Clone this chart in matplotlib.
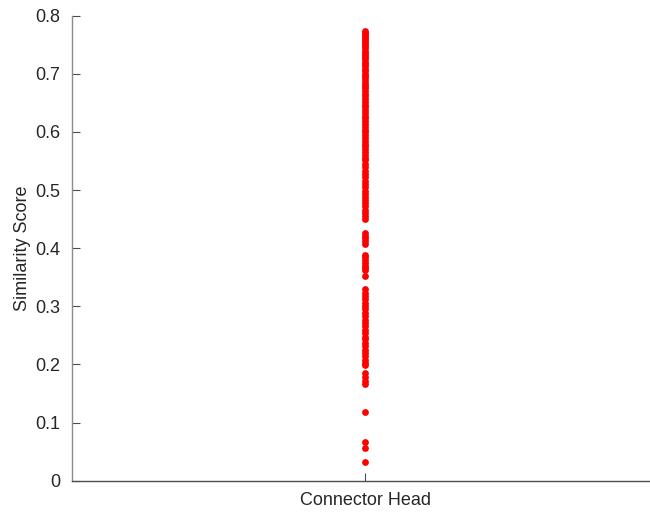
import matplotlib
matplotlib.use("Agg")
import matplotlib.pyplot as plt

plt.rcParams['font.family'] = ['Liberation Sans', 'DejaVu Sans']

category = "Connector Head"

# Similarity scores for every sample of the part
scores_high = [0.774, 0.771, 0.768, 0.765, 0.762, 0.758, 0.755, 0.751, 0.747, 0.744,
               0.740, 0.736, 0.733, 0.729, 0.725, 0.721, 0.717, 0.713, 0.709, 0.705,
               0.700, 0.696, 0.692, 0.688, 0.683, 0.679, 0.675, 0.670, 0.666, 0.661,
               0.657, 0.652, 0.647, 0.643, 0.638, 0.633, 0.628, 0.624, 0.619, 0.614,
               0.609, 0.604, 0.600, 0.595, 0.590, 0.585, 0.580, 0.575, 0.570, 0.566,
               0.561, 0.556, 0.551, 0.544, 0.539, 0.533, 0.527, 0.522, 0.516, 0.511,
               0.505, 0.499, 0.494, 0.488, 0.483, 0.477, 0.472, 0.466, 0.461, 0.456,
               0.450]
scores_mid = [0.426, 0.421, 0.417, 0.413, 0.408,
              0.389, 0.384, 0.379, 0.374, 0.370, 0.366, 0.362,
              0.353,
              0.329, 0.323, 0.318, 0.312, 0.306, 0.300, 0.295, 0.289, 0.283, 0.277,
              0.271, 0.266, 0.260, 0.254, 0.248, 0.243, 0.237, 0.231, 0.225, 0.220,
              0.214, 0.208, 0.203, 0.199, 0.185, 0.178, 0.172, 0.166]
scores_low = [0.119, 0.067, 0.057, 0.032]

scores = scores_high + scores_mid + scores_low
y_ticks = [0, 0.1, 0.2, 0.3, 0.4, 0.5, 0.6, 0.7, 0.8]
y_tick_labels = ["0", "0.1", "0.2", "0.3", "0.4", "0.5", "0.6", "0.7", "0.8"]

text_color = "#262626"
axis_color = "#4d4d4d"

fig = plt.figure(figsize=(6.5, 5.14), dpi=100)
ax = fig.add_axes([0.110, 0.0648, 0.904, 0.9047])

ax.scatter([1] * len(scores), scores, s=24, color="#ff0000", linewidths=0, zorder=3)

ax.set_xlim(0.5, 1.5)
ax.set_ylim(0, 0.8)
ax.set_xticks([1])
ax.set_xticklabels([category])
ax.set_yticks(y_ticks)
ax.set_yticklabels(y_tick_labels)

for side in ("top", "right"):
    ax.spines[side].set_visible(False)
ax.spines["left"].set_color("#8c8c8c")
ax.spines["bottom"].set_color(axis_color)
for side in ("left", "bottom"):
    ax.spines[side].set_linewidth(1.0)

ax.tick_params(axis="both", direction="in", length=6, width=0.8,
               colors=axis_color, labelcolor=text_color, labelsize=13)
ax.tick_params(axis="y", pad=8)
ax.tick_params(axis="x", pad=8)

ax.set_ylabel("Similarity Score", fontsize=13, color=text_color, labelpad=3)

fig.savefig("out.png", dpi=100)
